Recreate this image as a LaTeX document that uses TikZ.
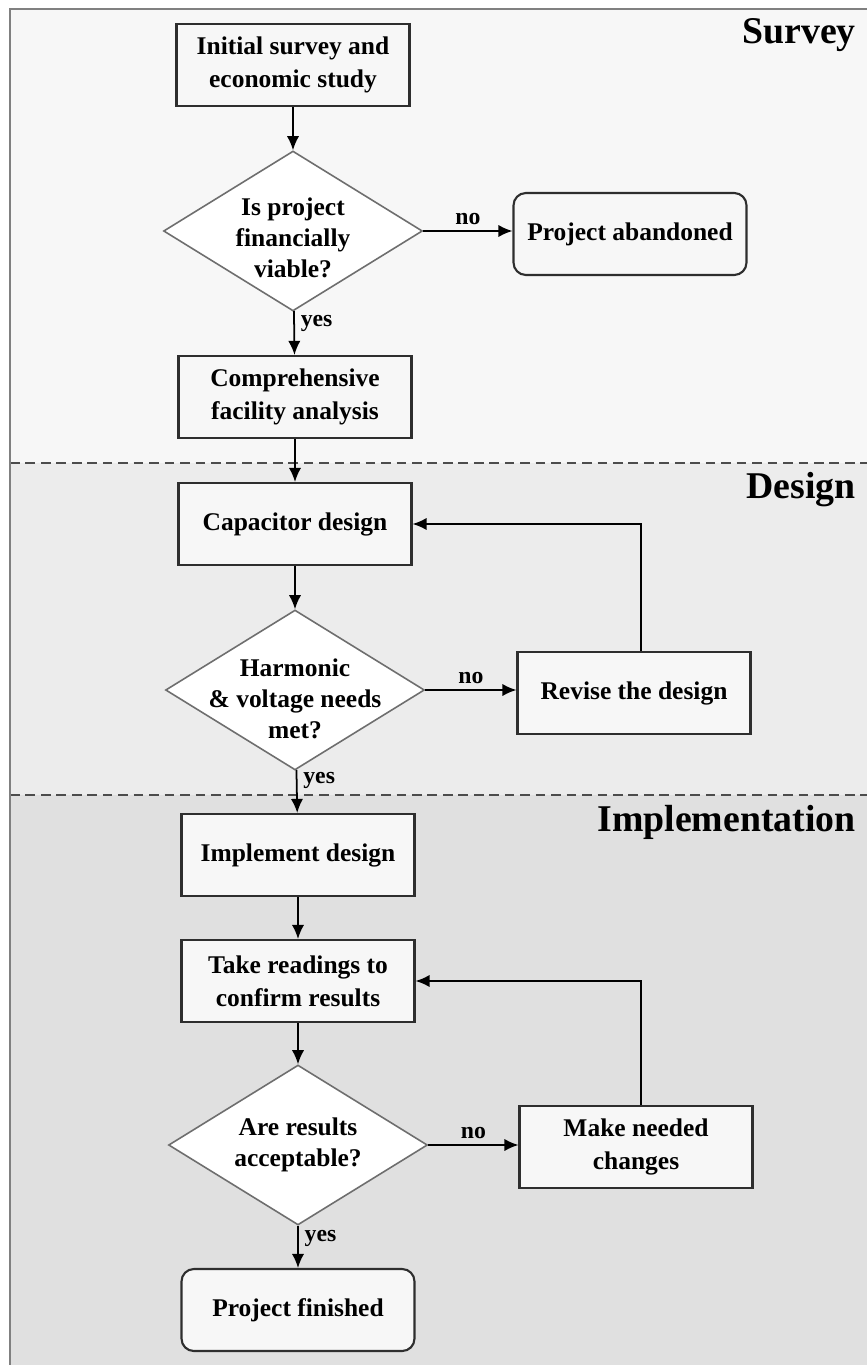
\documentclass[tikz,border=0pt]{standalone}
\usepackage{fontspec}
\setmainfont{Liberation Serif}
\usetikzlibrary{shapes.geometric,arrows.meta}
\definecolor{surveybg}{HTML}{F7F7F7}
\definecolor{designbg}{HTML}{ECECEC}
\definecolor{implbg}{HTML}{E0E0E0}
\definecolor{boxline}{HTML}{2E2E2E}
\definecolor{decline}{HTML}{6E6E6E}
\definecolor{frameline}{HTML}{808080}
\begin{document}
\begin{tikzpicture}[x=0.02cm,y=-0.02cm]
		\tikzstyle{box}=[draw=boxline,line width=1.2pt,fill=white!97!black,shape=rectangle,minimum width=4.66cm,minimum height=1.64cm,align=center,inner sep=2pt,font=\fontsize{14.5}{19}\selectfont\bfseries];
		\tikzstyle{term}=[box,rounded corners=7pt];
		\tikzstyle{dec}=[draw=decline,line width=0.9pt,fill=white,shape=diamond,minimum width=5.18cm,minimum height=3.2cm,inner sep=0pt];
		\tikzstyle{dtext}=[align=center,inner sep=0pt,font=\fontsize{14.5}{17.5}\selectfont\bfseries];
		\tikzstyle{conn}=[draw=black,line width=1pt,-{Latex[length=8pt,width=7pt]}];
		\tikzstyle{lbl}=[font=\fontsize{13.5}{15}\selectfont\bfseries];
		\tikzstyle{phase}=[anchor=east,inner sep=0pt,font=\fontsize{21.5}{24}\selectfont\bfseries];
		\tikzstyle{sep}=[draw=black!70,line width=1pt,dash pattern=on 5.5pt off 3.3pt];
		\useasboundingbox (0,0) rectangle (867,1365);
		% bands
		\fill[surveybg] (10,9) rectangle (867,463);
		\fill[designbg] (10,463) rectangle (867,795);
		\fill[implbg] (10,795) rectangle (867,1365);
		\draw[sep] (10,463) -- (867,463);
		\draw[sep] (10,795) -- (867,795);
		\draw[frameline,line width=1.6pt] (10,1365) -- (10,9) -- (867,9);
		\node[phase] (ph1) at (856,35) {Survey};
		\node[phase] (ph2) at (856,490) {Design};
		\node[phase] (ph3) at (856,822) {Implementation};
		% survey
		\node[box] (s1) at (293,65) {Initial survey and\\economic study};
		\node[dec] (d1) at (293,231) {};
		\node[dtext] (d1t) at (293,238) {Is project\\financially\\viable?};
		\node[term] (ab) at (630,234) {Project abandoned};
		\node[box] (s2) at (295,397) {Comprehensive\\facility analysis};
		% design
		\node[box] (c1) at (295,524) {Capacitor design};
		\node[dec] (d2) at (295,690) {};
		\node[dtext] (d2t) at (295,699) {Harmonic\\\&~voltage needs\\met?};
		\node[box] (rv) at (634,693) {Revise the design};
		% implementation
		\node[box] (i1) at (298,855) {Implement design};
		\node[box] (i2) at (298,981) {Take readings to\\confirm results};
		\node[dec] (d3) at (298,1145) {};
		\node[dtext] (d3t) at (298,1145) {Are results\\acceptable?};
		\node[box] (mk) at (636,1147) {Make needed\\changes};
		\node[term] (fin) at (298,1310) {Project finished};
		\draw[conn] (s1) -- (d1);
		\draw[conn] (d1.east) -- node[lbl,above] (n1) {no} (d1.east -| ab.west);
		\draw[conn] (d1) -- node[lbl,right,pos=0.28] (y1) {yes} (s2);
		\draw[conn] (s2) -- (c1);
		\draw[conn] (c1) -- (d2);
		\draw[conn] (d2.east) -- node[lbl,above] (n2) {no} (d2.east -| rv.west);
		\draw[conn] ([xshift=0.14cm]rv.north) |- (c1.east);
		\draw[conn] (d2) -- node[lbl,right,pos=0.25] (y2) {yes} (i1);
		\draw[conn] (i1) -- (i2);
		\draw[conn] (i2) -- (d3);
		\draw[conn] (d3.east) -- node[lbl,above] (n3) {no} (d3.east -| mk.west);
		\draw[conn] ([xshift=0.1cm]mk.north) |- (i2.east);
		\draw[conn] (d3) -- node[lbl,right,pos=0.3] (y3) {yes} (fin);
	\end{tikzpicture}
\end{document}
